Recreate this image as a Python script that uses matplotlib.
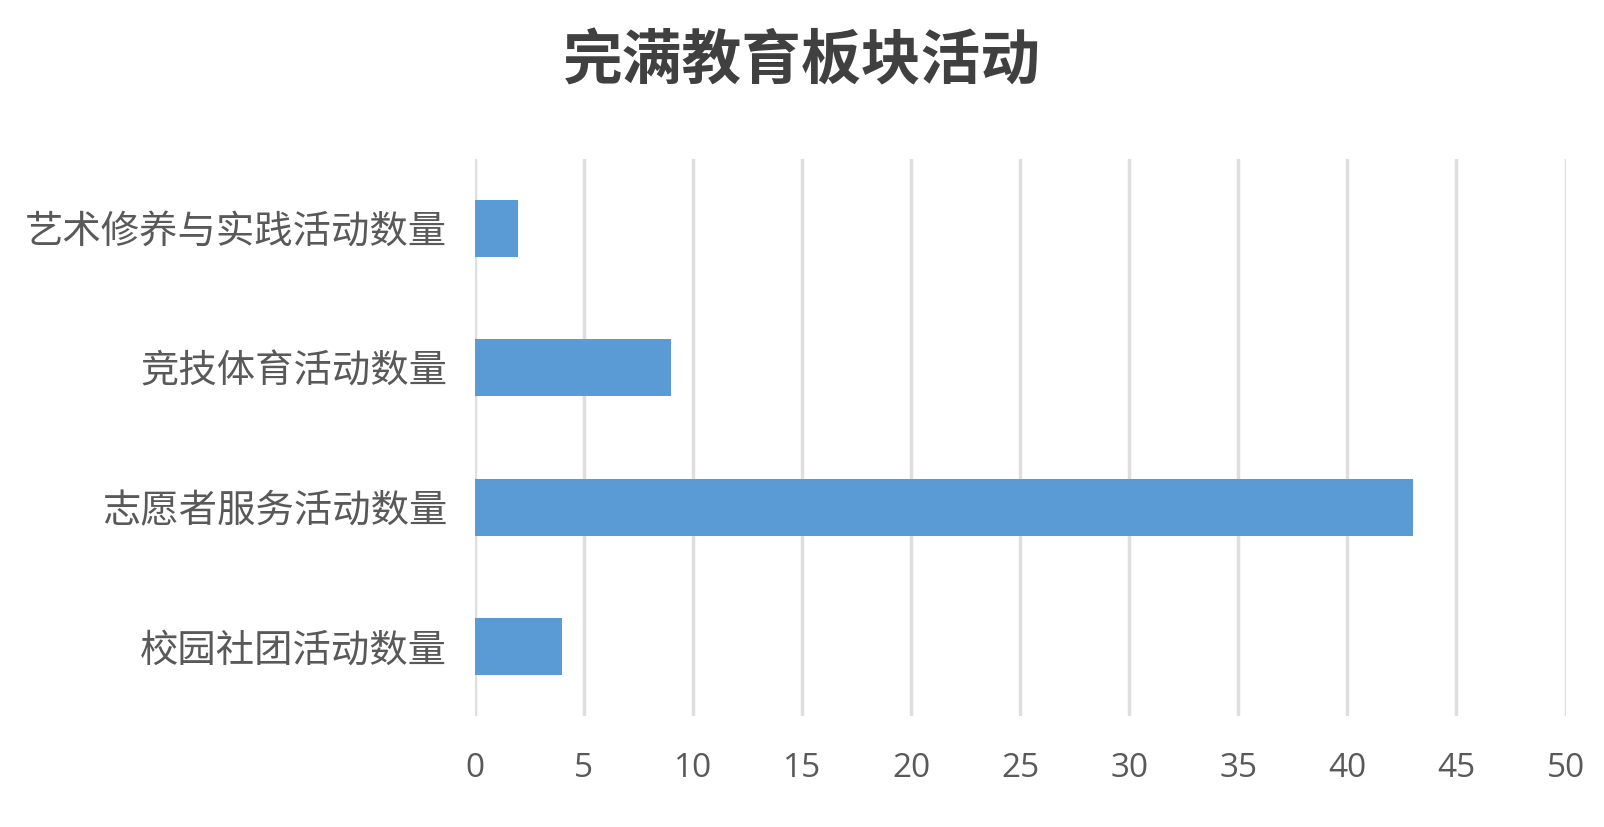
import matplotlib
matplotlib.use("Agg")
import matplotlib.pyplot as plt

# data
categories = ["校园社团活动数量", "志愿者服务活动数量", "竞技体育活动数量", "艺术修养与实践活动数量"]
counts = [4, 43, 9, 2]
xticks = [0, 5, 10, 15, 20, 25, 30, 35, 40, 45, 50]
title = "完满教育板块活动"

plt.rcParams['font.family'] = ['Noto Sans CJK SC', 'DejaVu Sans']

fig = plt.figure(figsize=(16.04, 8.27), dpi=100)
ax = fig.add_axes([0.296, 0.134, 0.68, 0.674])

ypos = list(range(len(categories)))
ax.barh(ypos, counts, height=0.41, color="#5B9BD5", zorder=3)

ax.set_xlim(0, 50)
ax.set_ylim(-0.5, len(categories) - 0.5)
ax.set_xticks(xticks)
ax.set_xticklabels([str(t) for t in xticks], fontsize=24, color="#595959",
                   family=['Open Sans', 'DejaVu Sans'])
ax.set_yticks(ypos)
ax.set_yticklabels(categories, fontsize=27.6, color="#595959")
ax.tick_params(axis='both', length=0)
ax.tick_params(axis='x', pad=26)
ax.tick_params(axis='y', pad=20)

ax.grid(axis='x', color="#DEDEDE", linewidth=2.5, zorder=0)
for s in ax.spines.values():
    s.set_visible(False)

fig.text(0.5, 0.925, title, ha='center', va='center', fontsize=43,
         fontweight='bold', color="#404040")

fig.savefig("out.png", dpi=100, facecolor="white")
